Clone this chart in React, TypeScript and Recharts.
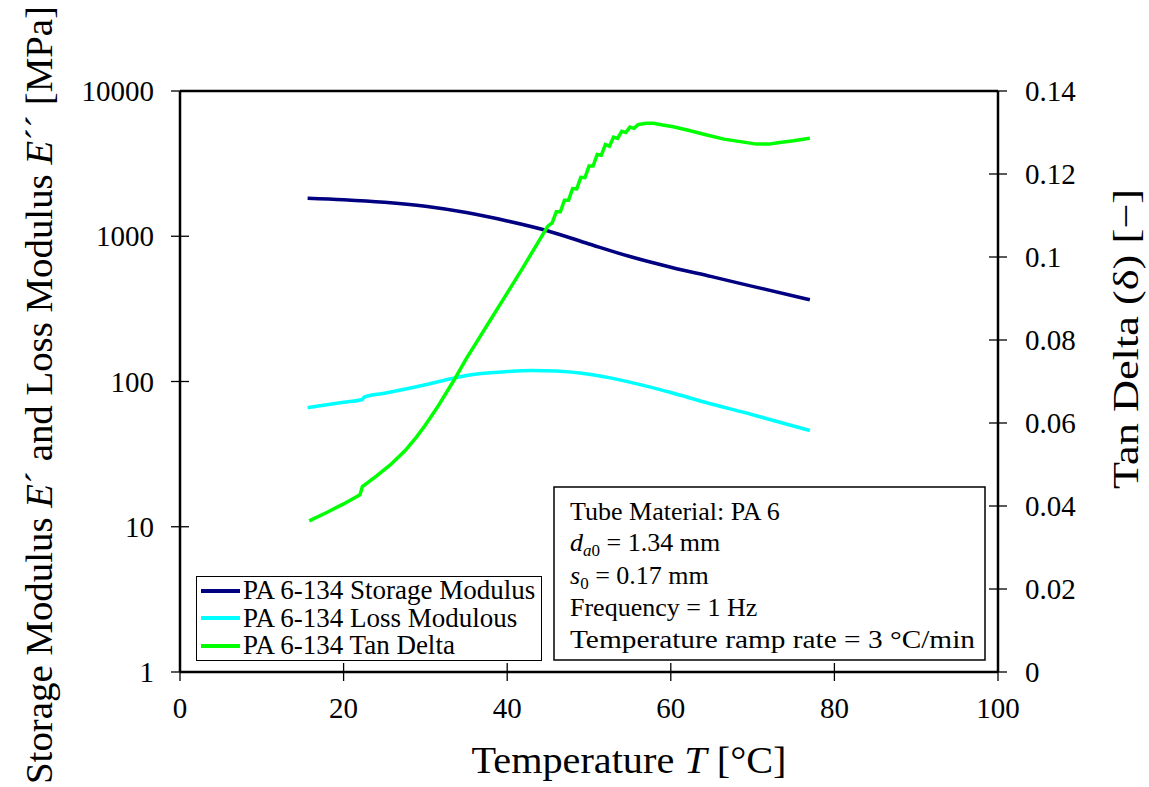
import React from 'react';
import { ComposedChart, Line, XAxis, YAxis, ReferenceLine, Legend } from 'recharts';

// storage modulus E' [MPa]
const storageTemp = [15.6, 20, 25, 30, 35, 40, 45, 50, 55, 60, 65, 70, 77];
const storageMod = [1828, 1786, 1714, 1607, 1455, 1274, 1087, 885, 725, 612, 527, 452, 365];

// loss modulus E'' [MPa]
const lossTemp = [15.6, 20, 22.3, 22.5, 25, 30, 33.3, 35, 40, 43, 46, 50, 53.6, 57, 60, 64.2, 70, 77];
const lossMod = [66, 72, 75.2, 78, 83, 95, 105, 110, 117, 119, 118, 112, 103, 93, 84, 72, 59, 46];

// tan delta [-]
const tanTemp = [
  15.8, 18, 20, 22.0, 22.3, 24, 25.7, 27.5, 28.9, 30, 31.4, 33.4, 35, 36.3, 38, 39.9, 42, 44.8,
  45.0, 45.5, 46.0, 46.5, 47.0, 47.5, 48.0, 48.5, 49.0, 49.5, 50.0, 50.5, 51.0, 51.5, 52.0,
  52.5, 53.0, 53.5, 54.0, 54.5, 55.0, 55.5, 56.0, 57.0, 57.9, 59.0, 60.3, 62, 64.4,
  66.5, 68.5, 70.5, 72, 73.3, 75, 77,
];
const tanDelta = [
  0.0364, 0.0385, 0.0405, 0.0427, 0.0447, 0.0472, 0.0499, 0.0533, 0.0566, 0.0595, 0.0636, 0.0700,
  0.0755, 0.0796, 0.085, 0.091, 0.0977, 0.1069,
  0.1075, 0.1082, 0.1109, 0.1109, 0.1137, 0.1137, 0.1165, 0.1164, 0.1192, 0.1191, 0.1219,
  0.1219, 0.1247, 0.1245, 0.1271, 0.1267, 0.1289, 0.1286, 0.1303, 0.13, 0.1313, 0.131,
  0.1319, 0.1322, 0.1322, 0.1318, 0.1314, 0.1306, 0.1294, 0.1284, 0.1278, 0.1272, 0.1272,
  0.1276, 0.128, 0.1286,
];

const xTicks = [0, 20, 40, 60, 80, 100];
const leftTicks = [1, 10, 100, 1000, 10000];
const rightTicks = [0, 0.02, 0.04, 0.06, 0.08, 0.1, 0.12, 0.14];

const legendItems = [
  { name: 'PA 6-134 Storage Modulus', color: '#000080' },
  { name: 'PA 6-134 Loss Modulous', color: '#00FFFF' },
  { name: 'PA 6-134 Tan Delta', color: '#00FF00' },
];

const storageData = storageTemp.map((t, i) => ({ t, v: storageMod[i] }));
const lossData = lossTemp.map((t, i) => ({ t, v: lossMod[i] }));
const tanData = tanTemp.map((t, i) => ({ t, v: tanDelta[i] }));

const FONT = '"Liberation Serif", "Times New Roman", serif';

const LeftTick = ({ x, y, payload }: any) => (
  <g>
    <line x1={x - 9} x2={x + 9} y1={y} y2={y} stroke="#000" strokeWidth={1.3} />
    <text x={x - 26} y={y} textAnchor="end" dominantBaseline="central" fontFamily={FONT} fontSize={29} fill="#000">
      {payload.value}
    </text>
  </g>
);

const RightTick = ({ x, y, payload }: any) => (
  <g>
    <line x1={x - 9} x2={x + 9} y1={y} y2={y} stroke="#000" strokeWidth={1.3} />
    <text x={x + 27} y={y} textAnchor="start" dominantBaseline="central" fontFamily={FONT} fontSize={29} fill="#000">
      {payload.value}
    </text>
  </g>
);

const BottomTick = ({ x, y, payload }: any) => (
  <g>
    <line x1={x} x2={x} y1={y - 9} y2={y + 9} stroke="#000" strokeWidth={1.3} />
    <text x={x} y={y + 36} textAnchor="middle" dominantBaseline="central" fontFamily={FONT} fontSize={29} fill="#000">
      {payload.value}
    </text>
  </g>
);

const XTitle = () => (
  <text x={629} y={773} textAnchor="middle" fontFamily={FONT} fontSize={37} fill="#000" textLength={315} lengthAdjust="spacingAndGlyphs">
    Temperature <tspan fontStyle="italic">T</tspan> [°C]
  </text>
);

const LeftTitle = () => (
  <text
    transform="translate(52, 395) rotate(-90)"
    textAnchor="middle"
    fontFamily={FONT}
    fontSize={37}
    fill="#000"
    textLength={778}
    lengthAdjust="spacingAndGlyphs"
  >
    Storage Modulus <tspan fontStyle="italic">E</tspan>´ and Loss Modulus <tspan fontStyle="italic">E</tspan>´´ [MPa]
  </text>
);

const RightTitle = () => (
  <text
    transform="translate(1138, 339) rotate(-90)"
    textAnchor="middle"
    fontFamily={FONT}
    fontSize={36}
    fill="#000"
    textLength={300}
    lengthAdjust="spacingAndGlyphs"
  >
    Tan Delta (δ) [−]
  </text>
);

const renderLegend = () => (
  <div
    style={{
      boxSizing: 'border-box',
      width: 346,
      height: 85,
      border: '1.5px solid #000',
      background: '#fff',
      fontFamily: FONT,
      fontSize: 27,
      lineHeight: '27px',
      color: '#000',
      paddingLeft: 4,
      overflow: 'hidden',
    }}
  >
    {legendItems.map((it) => (
      <div key={it.name} style={{ display: 'flex', alignItems: 'center', height: 27.5, whiteSpace: 'nowrap' }}>
        <span style={{ display: 'inline-block', width: 39, height: 4, background: it.color, marginRight: 3, flexShrink: 0 }} />
        {it.name}
      </div>
    ))}
  </div>
);

const InfoBox = () => (
  <svg
    width={433}
    height={175}
    style={{ position: 'absolute', left: 553, top: 486, pointerEvents: 'none' }}
  >
    <rect x={1} y={1} width={431} height={173} fill="#fff" stroke="#000" strokeWidth={1.5} />
    <g fontFamily={FONT} fontSize={26} fill="#000">
      <text x={17} y={34}>Tube Material: PA 6</text>
      <text x={17} y={65}>
        <tspan fontStyle="italic">d</tspan>
        <tspan fontSize={17} dy={5} fontStyle="italic">a</tspan>
        <tspan fontSize={17}>0</tspan>
        <tspan dy={-5}> = 1.34 mm</tspan>
      </text>
      <text x={17} y={98}>
        <tspan fontStyle="italic">s</tspan>
        <tspan fontSize={17} dy={5}>0</tspan>
        <tspan dy={-5}> = 0.17 mm</tspan>
      </text>
      <text x={17} y={130}>Frequency = 1 Hz</text>
      <text x={17} y={162} textLength={405} lengthAdjust="spacingAndGlyphs">Temperature ramp rate = 3 °C/min</text>
    </g>
  </svg>
);

export default function App() {
  return (
    <div style={{ position: 'relative', width: 1149, height: 787, background: '#fff' }}>
      <style>{'body{margin:0;background:#fff}'}</style>
      <ComposedChart width={1149} height={787} margin={{ top: 91, right: 0, bottom: 0, left: 0 }}>
        <XAxis
          dataKey="t"
          type="number"
          domain={[0, 100]}
          ticks={xTicks}
          allowDuplicatedCategory={false}
          height={115}
          tickSize={0}
          tickMargin={0}
          tickLine={false}
          tick={<BottomTick />}
          axisLine={{ stroke: '#000', strokeWidth: 2.5 }}
          label={<XTitle />}
        />
        <YAxis
          yAxisId="left"
          scale="log"
          domain={[1, 10000]}
          ticks={leftTicks}
          allowDataOverflow
          width={180}
          tickSize={0}
          tickMargin={0}
          tickLine={false}
          tick={<LeftTick />}
          axisLine={{ stroke: '#000', strokeWidth: 2.5 }}
          label={<LeftTitle />}
        />
        <YAxis
          yAxisId="right"
          orientation="right"
          domain={[0, 0.14]}
          ticks={rightTicks}
          allowDataOverflow
          width={151}
          tickSize={0}
          tickMargin={0}
          tickLine={false}
          tick={<RightTick />}
          axisLine={{ stroke: '#000', strokeWidth: 2.5 }}
          label={<RightTitle />}
        />
        <ReferenceLine yAxisId="left" y={10000} stroke="#000" strokeWidth={2.5} />
        <Legend
          layout="horizontal"
          verticalAlign="middle"
          align="center"
          content={renderLegend}
          wrapperStyle={{ position: 'absolute', left: 196, top: 576, width: 346, height: 85 }}
        />
        <Line
          yAxisId="left"
          data={storageData}
          dataKey="v"
          name={legendItems[0].name}
          type="monotone"
          stroke={legendItems[0].color}
          strokeWidth={3.5}
          dot={false}
          isAnimationActive={false}
        />
        <Line
          yAxisId="left"
          data={lossData}
          dataKey="v"
          name={legendItems[1].name}
          type="monotone"
          stroke={legendItems[1].color}
          strokeWidth={3.5}
          dot={false}
          isAnimationActive={false}
        />
        <Line
          yAxisId="right"
          data={tanData}
          dataKey="v"
          name={legendItems[2].name}
          type="linear"
          stroke={legendItems[2].color}
          strokeWidth={3.5}
          dot={false}
          isAnimationActive={false}
        />
      </ComposedChart>
      <InfoBox />
    </div>
  );
}
